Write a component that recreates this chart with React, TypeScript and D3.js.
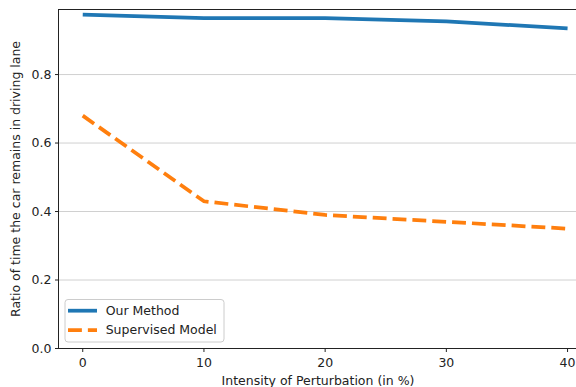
import React from "react";
import * as d3 from "d3";

const xValues = [0, 10, 20, 30, 40];
const ourMethod = [0.975, 0.965, 0.965, 0.955, 0.935];
const supervised = [0.68, 0.43, 0.39, 0.37, 0.35];
const xTicks = [0, 10, 20, 30, 40];
const yTicks = [0.0, 0.2, 0.4, 0.6, 0.8];
const seriesNames = ["Our Method", "Supervised Model"];

const W = 576;
const H = 387;
const left = 58.5;
const right = 577.5;
const top = 9.5;
const bottom = 348.5;
const FONT = "DejaVu Sans, sans-serif";
const FS = 12.5;

export default function App() {
  const x = d3.scaleLinear().domain([-2, 40.82]).range([left, right]);
  const y = d3.scaleLinear().domain([0, 0.99]).range([bottom, top]);
  const line = d3
    .line<number>()
    .x((_, i) => x(xValues[i]))
    .y((d) => y(d));
  const lw = 3.75;
  const cx = (left + right) / 2;
  const cy = (top + bottom) / 2;
  return (
    <svg
      width={W}
      height={H}
      style={{ position: "absolute", left: 0, top: 0, background: "#fff" }}
      fontFamily={FONT}
    >
      <rect x={0} y={0} width={W} height={H} fill="#fff" />
      {yTicks.filter((t) => t > 0).map((t) => (
        <line key={"g" + t} x1={left} x2={right} y1={y(t)} y2={y(t)} stroke="#d0d0d0" strokeWidth={1} />
      ))}
      <path d={line(ourMethod) || ""} fill="none" stroke="#1f77b4" strokeWidth={lw} />
      <path
        d={line(supervised) || ""}
        fill="none"
        stroke="#ff7f0e"
        strokeWidth={lw}
        strokeDasharray={`${3.7 * lw} ${1.6 * lw}`}
      />
      <rect x={left} y={top} width={right - left} height={bottom - top} fill="none" stroke="#222" strokeWidth={1} />
      {yTicks.map((t) => (
        <g key={"y" + t}>
          <line x1={left - 3.5} x2={left} y1={y(t)} y2={y(t)} stroke="#222" strokeWidth={1} />
          <text x={left - 7} y={y(t)} dy="0.35em" textAnchor="end" fontSize={FS} fill="#222">
            {t.toFixed(1)}
          </text>
        </g>
      ))}
      {xTicks.map((t) => (
        <g key={"x" + t}>
          <line x1={x(t)} x2={x(t)} y1={bottom} y2={bottom + 3.5} stroke="#222" strokeWidth={1} />
          <text x={x(t)} y={bottom + 18} textAnchor="middle" fontSize={FS} fill="#222">
            {t}
          </text>
        </g>
      ))}
      <text x={cx} y={385} textAnchor="middle" fontSize={FS} fill="#222">
        Intensity of Perturbation (in %)
      </text>
      <text
        transform={`translate(20,${cy}) rotate(-90)`}
        textAnchor="middle"
        fontSize={FS}
        fill="#222"
      >
        Ratio of time the car remains in driving lane
      </text>
      <g>
        <rect x={65} y={299.5} width={159} height={42.5} rx={3} fill="#fff" fillOpacity={0.8} stroke="#ccc" strokeWidth={1} />
        <line x1={68} x2={97} y1={310.7} y2={310.7} stroke="#1f77b4" strokeWidth={lw} />
        <line
          x1={68}
          x2={97}
          y1={330}
          y2={330}
          stroke="#ff7f0e"
          strokeWidth={lw}
          strokeDasharray={`${3.7 * lw} ${1.6 * lw}`}
        />
        <text x={105.7} y={310.7} dy="0.35em" fontSize={FS} fill="#222">
          {seriesNames[0]}
        </text>
        <text x={105.7} y={330} dy="0.35em" fontSize={FS} fill="#222">
          {seriesNames[1]}
        </text>
      </g>
    </svg>
  );
}
